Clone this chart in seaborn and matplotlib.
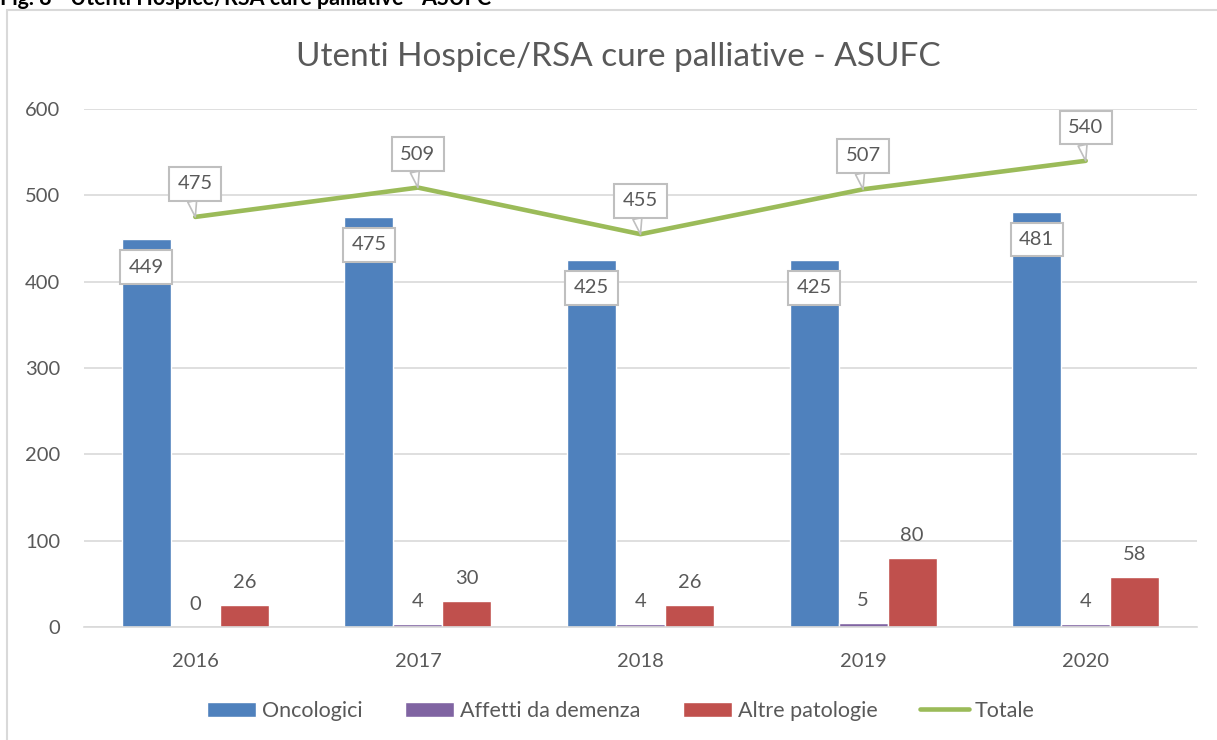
import matplotlib
matplotlib.use("Agg")
import matplotlib.pyplot as plt
from matplotlib.patches import Rectangle
import numpy as np
import pandas as pd
import seaborn as sns

years = ["2016", "2017", "2018", "2019", "2020"]
oncologici = [449, 475, 425, 425, 481]
demenza = [0, 4, 4, 5, 4]
altre = [26, 30, 26, 80, 58]
totale = [475, 509, 455, 507, 540]
series_names = ["Oncologici", "Affetti da demenza", "Altre patologie"]
title = "Utenti Hospice/RSA cure palliative - ASUFC"
caption = "Fig. 8 - Utenti Hospice/RSA cure palliative - ASUFC"
yticks = [0, 100, 200, 300, 400, 500, 600]

colors = ["#4F81BD", "#8064A2", "#C0504D"]
line_color = "#9BBB59"
text_color = "#595959"
grid_color = "#D9D9D9"

sns.set_theme(style="white")
plt.rcParams["font.family"] = ["Lato", "DejaVu Sans"]

df = pd.DataFrame({
    "Anno": years * 3,
    "Serie": [series_names[0]] * 5 + [series_names[1]] * 5 + [series_names[2]] * 5,
    "Valore": oncologici + demenza + altre,
})

fig = plt.figure(figsize=(12.17, 7.40), dpi=100)
ax = fig.add_axes([84 / 1217, 1 - 627 / 740, (1197 - 84) / 1217, (627 - 109) / 740])

sns.barplot(data=df, x="Anno", y="Valore", hue="Serie", order=years,
            hue_order=series_names, palette=colors, width=0.66, gap=0,
            saturation=1, ax=ax, legend=True, errorbar=None)
sns.lineplot(x=np.arange(len(years)), y=totale, color=line_color, lw=3.3,
             ax=ax, label="Totale")

ax.set_ylim(0, 600)
ax.set_xlim(-0.5, len(years) - 0.5)
ax.set_yticks(yticks)
ax.yaxis.grid(True, color=grid_color, lw=1.2)
ax.set_axisbelow(True)
for s in ["top", "right", "left"]:
    ax.spines[s].set_visible(False)
ax.spines["bottom"].set_color(grid_color)
ax.spines["bottom"].set_linewidth(1.2)
ax.tick_params(axis="both", length=0, labelsize=14.5, labelcolor=text_color)
ax.tick_params(axis="y", pad=17)
ax.tick_params(axis="x", pad=19)
ax.set_xlabel("")
ax.set_ylabel("")

box = dict(boxstyle="square,pad=0.42", fc="white", ec="#BFBFBF", lw=1.5)

# bar labels
for i, cont in enumerate(ax.containers[:3]):
    for rect, val in zip(cont, [oncologici, demenza, altre][i]):
        cx = rect.get_x() + rect.get_width() / 2
        h = rect.get_height()
        if i == 0:
            ax.annotate(str(val), (cx, h), xytext=(0, -20), textcoords="offset points",
                        ha="center", va="center", fontsize=14.5, color=text_color, bbox=box)
        else:
            ax.annotate(str(val), (cx, h), xytext=(0, 10), textcoords="offset points",
                        ha="center", va="bottom", fontsize=14.5, color=text_color)

# totale labels
for i, val in enumerate(totale):
    ax.annotate(str(val), (i, val), xytext=(0, 24), textcoords="offset points",
                ha="center", va="center", fontsize=14.5, color=text_color, bbox=box,
                arrowprops=dict(arrowstyle="wedge,tail_width=0.45", fc="white",
                                ec="#BFBFBF", lw=1.2, shrinkA=0, shrinkB=0,
                                relpos=(0.35, 0.1)))

fig.text(0.508, 1 - 57 / 740, title, ha="center", va="center", fontsize=24,
         color=text_color)

handles, labels = ax.get_legend_handles_labels()
if ax.legend_:
    ax.legend_.remove()
fig.legend(handles, labels, loc="center", bbox_to_anchor=(0.510, 1 - 711 / 740),
           ncol=4, frameon=False, prop={"size": 15.5},
           handlelength=2.3, handleheight=0.7, handletextpad=0.25,
           columnspacing=1.98, labelcolor=text_color)

fig.patches.append(Rectangle((7 / 1217, -0.05), 1.2, 1 - 10 / 740 + 0.05,
                             transform=fig.transFigure, fill=False,
                             ec=grid_color, lw=1.5))
fig.text(0.0, 1 - 5 / 740, caption, ha="left", va="baseline", fontsize=15.5,
         fontweight="bold", color="black")

fig.savefig("out.png", dpi=100)
